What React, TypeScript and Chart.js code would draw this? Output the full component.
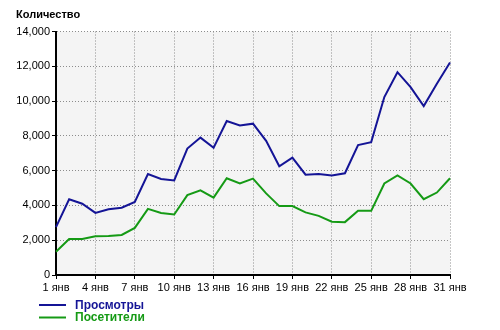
import React, { useEffect, useRef } from "react";
import { Chart, registerables } from "chart.js";

Chart.register(...registerables);

const titleText = "Количество";
const days = [
  "1 янв", "2 янв", "3 янв", "4 янв", "5 янв", "6 янв", "7 янв", "8 янв", "9 янв", "10 янв",
  "11 янв", "12 янв", "13 янв", "14 янв", "15 янв", "16 янв", "17 янв", "18 янв", "19 янв", "20 янв",
  "21 янв", "22 янв", "23 янв", "24 янв", "25 янв", "26 янв", "27 янв", "28 янв", "29 янв", "30 янв", "31 янв",
];
const views = [
  2750, 4350, 4100, 3570, 3780, 3870, 4200, 5800, 5520, 5440,
  7270, 7900, 7320, 8850, 8600, 8700, 7710, 6250, 6750, 5770,
  5810, 5720, 5850, 7470, 7640, 10230, 11660, 10800, 9710, 11000, 12220,
];
const visitors = [
  1340, 2070, 2070, 2230, 2240, 2300, 2710, 3800, 3570, 3480,
  4590, 4870, 4450, 5560, 5260, 5540, 4690, 3960, 3960, 3600,
  3400, 3060, 3040, 3690, 3690, 5260, 5720, 5260, 4360, 4740, 5560,
];
const seriesNames = ["Просмотры", "Посетители"];
const seriesColors = ["#141496", "#159a15"];
const yTicks = [0, 2000, 4000, 6000, 8000, 10000, 12000, 14000];

const FONT = "'Liberation Sans', Arial, sans-serif";

export default function App() {
  const ref = useRef<HTMLCanvasElement | null>(null);
  useEffect(() => {
    document.body.style.margin = "0";
    const canvas = ref.current!;
    const bgPlugin = {
      id: "bgPlugin",
      beforeDraw(chart: any) {
        const { ctx, chartArea } = chart;
        ctx.save();
        ctx.fillStyle = "#ffffff";
        ctx.fillRect(0, 0, chart.width, chart.height);
        ctx.fillStyle = "#f4f4f4";
        ctx.fillRect(chartArea.left, chartArea.top, chartArea.right - chartArea.left, chartArea.bottom - chartArea.top);
        ctx.restore();
      },
      afterDraw(chart: any) {
        const { ctx } = chart;
        ctx.save();
        ctx.font = `bold 11px ${FONT}`;
        ctx.fillStyle = "#000";
        ctx.textBaseline = "middle";
        ctx.fillText(titleText, 16, 15);
        chart.data.datasets.forEach((ds: any, i: number) => {
          const y = 305 + i * 12.5;
          ctx.strokeStyle = ds.borderColor;
          ctx.lineWidth = 2;
          ctx.beginPath();
          ctx.moveTo(39, y);
          ctx.lineTo(66, y);
          ctx.stroke();
          ctx.font = `bold 12px ${FONT}`;
          ctx.fillStyle = ds.borderColor;
          ctx.fillText(ds.label, 75, y + 0.5);
        });
        ctx.restore();
      },
    };
    const chart = new Chart(canvas, {
      type: "line",
      data: {
        labels: days,
        datasets: [
          { label: seriesNames[0], data: views, borderColor: seriesColors[0], backgroundColor: seriesColors[0], borderWidth: 2, pointRadius: 0, tension: 0 },
          { label: seriesNames[1], data: visitors, borderColor: seriesColors[1], backgroundColor: seriesColors[1], borderWidth: 2, pointRadius: 0, tension: 0 },
        ],
      },
      options: {
        responsive: false,
        animation: false,
        events: [],
        layout: { padding: { left: 0, right: 50, top: 31.5, bottom: 30 } },
        plugins: { legend: { display: false }, title: { display: false }, tooltip: { enabled: false } },
        scales: {
          x: {
            type: "category",
            offset: false,
            afterFit: (s: any) => { s.height = 25; },
            border: { display: true, color: "#000", width: 2, dash: [1, 2] },
            grid: {
              drawOnChartArea: true,
              color: (c: any) => (c.index % 3 === 0 && c.index !== 0 ? "#8c8c8c" : "rgba(0,0,0,0)"),
              tickBorderDash: [],
              tickColor: (c: any) => (c.index % 3 === 0 ? "#000" : "rgba(0,0,0,0)"),
              tickLength: 4,
              lineWidth: 1,
            },
            ticks: {
              autoSkip: false,
              maxRotation: 0,
              padding: 2,
              color: "#000",
              font: { family: FONT, size: 11 },
              callback: (_v: any, i: number) => (i % 3 === 0 ? days[i] : ""),
            },
          },
          y: {
            min: 0,
            max: 14000,
            afterFit: (s: any) => { s.width = 56; },
            afterBuildTicks: (s: any) => { s.ticks = yTicks.map((v) => ({ value: v })); },
            border: { display: true, color: "#000", width: 2, dash: [1, 2] },
            grid: {
              color: (c: any) => (c.tick && c.tick.value === 0 ? "rgba(0,0,0,0)" : "#8c8c8c"),
              tickBorderDash: [],
              tickColor: "#000",
              tickLength: 4,
              lineWidth: 1,
            },
            ticks: {
              padding: 2,
              color: "#000",
              font: { family: FONT, size: 11 },
              callback: (v: any) => Number(v).toLocaleString("en-US"),
            },
          },
        },
      },
      plugins: [bgPlugin],
    });
    return () => chart.destroy();
  }, []);
  return <canvas ref={ref} width={500} height={330} style={{ display: "block" }} />;
}
